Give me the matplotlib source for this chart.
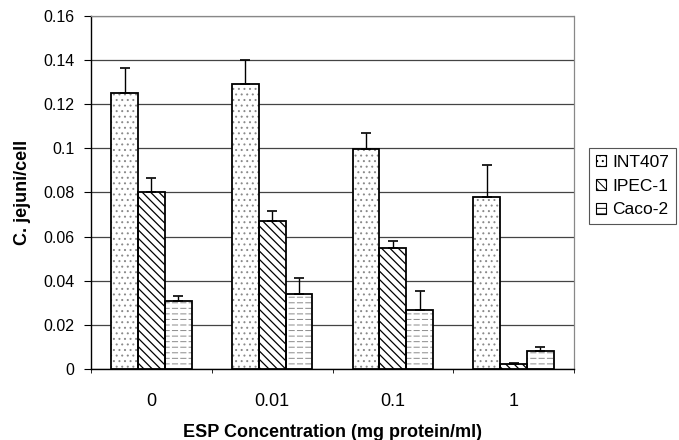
import matplotlib.pyplot as plt
import numpy as np

plt.rcParams['font.family'] = ['Liberation Sans', 'DejaVu Sans']
plt.rcParams['hatch.linewidth'] = 0.7

# Data
concentrations = ['0', '0.01', '0.1', '1']
series = ['INT407', 'IPEC-1', 'Caco-2']
int407 = [0.125, 0.129, 0.0997, 0.078]
ipec1 = [0.080, 0.067, 0.0548, 0.0022]
caco2 = [0.031, 0.034, 0.0267, 0.0080]
int407_err = [0.0115, 0.011, 0.0073, 0.0143]
ipec1_err = [0.0065, 0.0045, 0.0034, 0.0004]
caco2_err = [0.0022, 0.0072, 0.0086, 0.0020]

values = [int407, ipec1, caco2]
errors = [int407_err, ipec1_err, caco2_err]
hatches = ['...', '\\\\\\\\', '---']
hatch_colors = ['#8a8a8a', '#000000', '#8a8a8a']

fig = plt.figure(figsize=(6.79, 4.4), dpi=100)
# axes box in pixels: x 91..574, y 16..369
ax = fig.add_axes([91 / 679, 1 - 369 / 440, (574 - 91) / 679, (369 - 16) / 440])

x = np.arange(len(concentrations))
width = 0.222
handles = []
for i, name in enumerate(series):
    pos = x + (i - 1) * width
    plt.rcParams['hatch.linewidth'] = 0.9 if i == 1 else 0.7
    ax.bar(pos, values[i], width, color='white', hatch=hatches[i],
           edgecolor=hatch_colors[i], linewidth=0, zorder=3)
    if i == 2:
        # break the horizontal lines into short dashes
        plt.rcParams['hatch.linewidth'] = 1.6
        ax.bar(pos, values[i], width, fill=False, hatch='||',
               edgecolor='white', linewidth=0, zorder=3.5)
    plt.rcParams['hatch.linewidth'] = 0.7
    ax.bar(pos, values[i], width, fill=False, edgecolor='black',
           linewidth=1.3, zorder=4)
    ax.errorbar(pos, values[i], yerr=[np.zeros(len(x)), errors[i]],
                fmt='none', ecolor='black', elinewidth=1.0, capsize=3.6,
                capthick=1.2, zorder=5)
    handles.append(plt.Rectangle((0, 0), 1, 1, facecolor='white',
                                 hatch=hatches[i], edgecolor='black',
                                 linewidth=0.8))

ax.set_xlim(-0.5, len(x) - 0.5)
ax.set_ylim(0, 0.16)
ax.set_yticks(np.arange(0, 0.161, 0.02))
ax.set_yticklabels(['0', '0.02', '0.04', '0.06', '0.08', '0.1', '0.12', '0.14', '0.16'])
ax.set_xticks(x)
ax.set_xticklabels(concentrations)
ax.set_xticks(np.arange(-0.5, len(x), 1), minor=True)
ax.tick_params(axis='x', which='major', length=0, pad=17, labelsize=13)
ax.tick_params(axis='x', which='minor', length=3, direction='out')
ax.tick_params(axis='y', length=5, direction='out', labelsize=11.5, pad=7)

ax.yaxis.grid(True, color='#444444', linewidth=0.9, zorder=0)
ax.set_axisbelow(True)
for side in ['top', 'right']:
    ax.spines[side].set_color('#888888')
    ax.spines[side].set_linestyle((0, (2, 1)))
    ax.spines[side].set_linewidth(0.9)
ax.spines['left'].set_linewidth(1.0)
ax.spines['bottom'].set_linewidth(1.0)

ax.set_ylabel('C. jejuni/cell', fontsize=13, fontweight='bold', labelpad=9)
ax.set_xlabel('ESP Concentration (mg protein/ml)', fontsize=13,
              fontweight='bold', labelpad=10)

leg = fig.legend(handles, series, loc='upper left',
                 bbox_to_anchor=(589 / 679, 1 - 148 / 440), fontsize=12.5,
                 handlelength=0.6, handleheight=0.6, handletextpad=0.35,
                 borderpad=0.4, labelspacing=0.5, fancybox=False,
                 edgecolor='#555555', framealpha=1, borderaxespad=0)
leg.get_frame().set_linewidth(0.8)

fig.savefig('out.png', dpi=100)
